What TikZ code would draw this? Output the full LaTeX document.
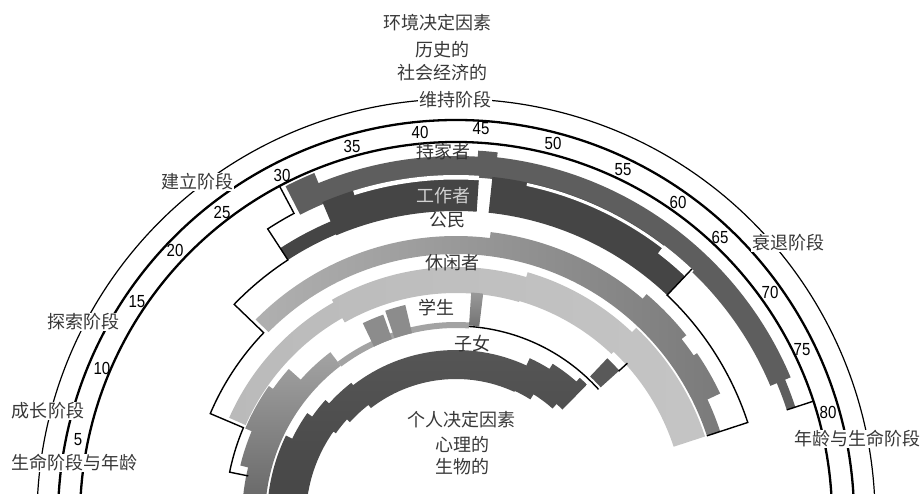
\documentclass[tikz,border=0pt]{standalone}
\usepackage{fontspec}
\setmainfont{Liberation Sans}
\newfontfamily\cjk{Noto Sans CJK SC}

\tikzset{
  sec/.style n args={4}{insert path={
    ({178.5-2.03*(#1)}:#4) arc[start angle={178.5-2.03*(#1)}, end angle={178.5-2.03*(#2)}, radius=#4]
    -- ({178.5-2.03*(#2)}:#3) arc[start angle={178.5-2.03*(#2)}, end angle={178.5-2.03*(#1)}, radius=#3]
    -- cycle}},
  outl/.style={line width=1.4pt, black},
  bigarc/.style={line width=2.3pt, black},
  thinarc/.style={line width=1.2pt, black},
  stage/.style={font=\cjk\fontsize{18}{20}\selectfont, text=black!78, fill=white, inner sep=1pt},
  plain/.style={font=\cjk\fontsize{18}{20}\selectfont, text=black!78, inner sep=1pt},
  role/.style={font=\cjk\fontsize{18}{20}\selectfont, text=black!80, inner sep=0pt},
  agenum/.style={font=\fontsize{17.5}{17.5}\selectfont, text=black, inner sep=0pt, xscale=0.86},
}
\colorlet{hm}{black!63}
\colorlet{wk}{black!73}

\begin{document}
\begin{tikzpicture}[x=1pt,y=1pt]
\useasboundingbox (0,0) rectangle (923,493);
\coordinate (C) at (456,-25);
\begin{scope}
\clip (0,0) rectangle (923,493);
\begin{scope}[shift={(C)}]
  % ---- homemaker
  \fill[hm] [sec={30.2}{32.6}{341}{373}] [sec={32.3}{45.5}{341}{362}]
            [sec={45.3}{46.8}{341}{368}] [sec={46.6}{76.7}{341}{363}]
            [sec={76.5}{79}{348}{357}];
  % ---- worker
  \fill[wk] [sec={27.3}{32.5}{308}{322}] [sec={32.3}{45.5}{307}{343}] [sec={46.6}{65}{307}{343}];
  \fill[white] [sec={35}{45.5}{338.5}{343}] [sec={49.5}{62}{339.5}{342.5}] [sec={62}{65.2}{333}{343}];
  % ---- citizen
  \shade[left color=black!31, right color=black!52]
     [sec={21.3}{47}{264}{282}] [sec={47}{63.5}{264}{288}] [sec={63.5}{69}{264}{294}]
     [sec={69}{71}{264}{288}] [sec={71}{75.5}{264}{292}] [sec={75.5}{79}{264}{278}];
  % ---- leisure
  \shade[left color=black!27, right color=black!23]
     [sec={11}{29}{230}{248}] [sec={29}{51.6}{225}{251}] [sec={51.6}{65}{226}{256}] [sec={65}{79}{229}{262}];
  % ---- student
  \shade[top color=black!36, bottom color=black!68]
     [sec={-6}{6}{191}{214}] [sec={6}{10.6}{191}{222}] [sec={10.6}{16.6}{191}{229}]
     [sec={16.6}{19.8}{191}{224}] [sec={19.8}{25.3}{191}{208}];
  \fill[black!36] [sec={25.3}{45.5}{190}{196}];
  \fill[black!45] [sec={31}{33.9}{190}{216}] [sec={34.3}{37}{190}{219}];
  \shade[top color=black!40, bottom color=black!55] [sec={45.5}{47}{193}{226}];
  \fill[black!65] [sec={65}{67.2}{195}{220}];
  % ---- child
  \shade[top color=black!66, bottom color=black!75]
            [sec={-8}{12}{150}{189}] [sec={12}{16.6}{150}{182}] [sec={16.6}{20}{147}{176}]
            [sec={20}{25}{143}{171}] [sec={25}{55.8}{139}{168}] [sec={55.8}{59.4}{140}{176}]
            [sec={59.4}{64}{146}{182}] [sec={64}{65.5}{152}{187}];
  % ---- outlines
  \draw[outl] (118.0:376) -- (118.0:345) arc[start angle=118.0, end angle=123.08, radius=345]
     -- (123.08:308) arc[start angle=123.08, end angle=136.07, radius=308]
     -- (136.07:267) arc[start angle=136.07, end angle=156.98, radius=267]
     -- (156.98:231) arc[start angle=156.98, end angle=168.55, radius=231]
     -- (168.55:212);
  \draw[outl] (46.55:343) -- (46.55:307) arc[start angle=46.55, end angle=18.13, radius=307] -- (18.13:264);
  \draw[outl] (18.1:348) -- (18.1:376);
  \draw[outl] (86.14:192) arc[start angle=86.14, end angle=42.08, radius=192];
  \draw[outl] (42.08:219) -- (42.08:231);
  % ---- stage arcs
  \draw[thinarc] (-10:419) arc[start angle=-10, end angle=190, radius=419];
  \draw[bigarc] (-10:398) arc[start angle=-10, end angle=190, radius=398];
  \draw[bigarc] (-10:376) arc[start angle=-10, end angle=190, radius=376];
\end{scope}
\end{scope}

% ---- ages
\node[agenum] (n5) at (78,53) {5};
\node[agenum] (n10) at (102,125) {10};
\node[agenum] (n15) at (137,191) {15};
\node[agenum] (n20) at (175,243) {20};
\node[agenum] (n25) at (222,281) {25};
\node[agenum] (n30) at (282,318) {30};
\node[agenum] (n35) at (352,347) {35};
\node[agenum] (n40) at (420,361) {40};
\node[agenum] (n45) at (481,364) {45};
\node[agenum] (n50) at (553,350) {50};
\node[agenum] (n55) at (623,323) {55};
\node[agenum] (n60) at (678,291) {60};
\node[agenum] (n65) at (720,256) {65};
\node[agenum] (n70) at (770,201) {70};
\node[agenum] (n75) at (802,143) {75};
\node[agenum] (n80) at (828,81) {80};

% ---- top / bottom texts
\node[plain] (env) at (437,470) {环境决定因素};
\node[plain] (hist) at (442,443) {历史的};
\node[plain] (soc) at (442,420) {社会经济的};
\node[stage] (maint) at (455,393) {维持阶段};
\node[stage] (estab) at (197,311) {建立阶段};
\node[stage] (decl) at (788,250) {衰退阶段};
\node[stage] (expl) at (83,171) {探索阶段};
\node[stage] (grow) at (48,82) {成长阶段};
\node[stage] (lifeL) at (74,30) {生命阶段与年龄};
\node[stage] (lifeR) at (857,54) {年龄与生命阶段};
\node[plain] (pers) at (461,73) {个人决定因素};
\node[plain] (psy) at (462,49) {心理的};
\node[plain] (bio) at (462,26) {生物的};

% ---- roles
\node[role] (rhm) at (443,341) {持家者};
\node[role, text=black!18] (rwk) at (443,297) {工作者};
\node[role] (rci) at (447,273) {公民};
\node[role] (rle) at (452,230) {休闲者};
\node[role] (rst) at (436,185) {学生};
\node[role] (rch) at (472,149) {子女};
\end{tikzpicture}
\end{document}
